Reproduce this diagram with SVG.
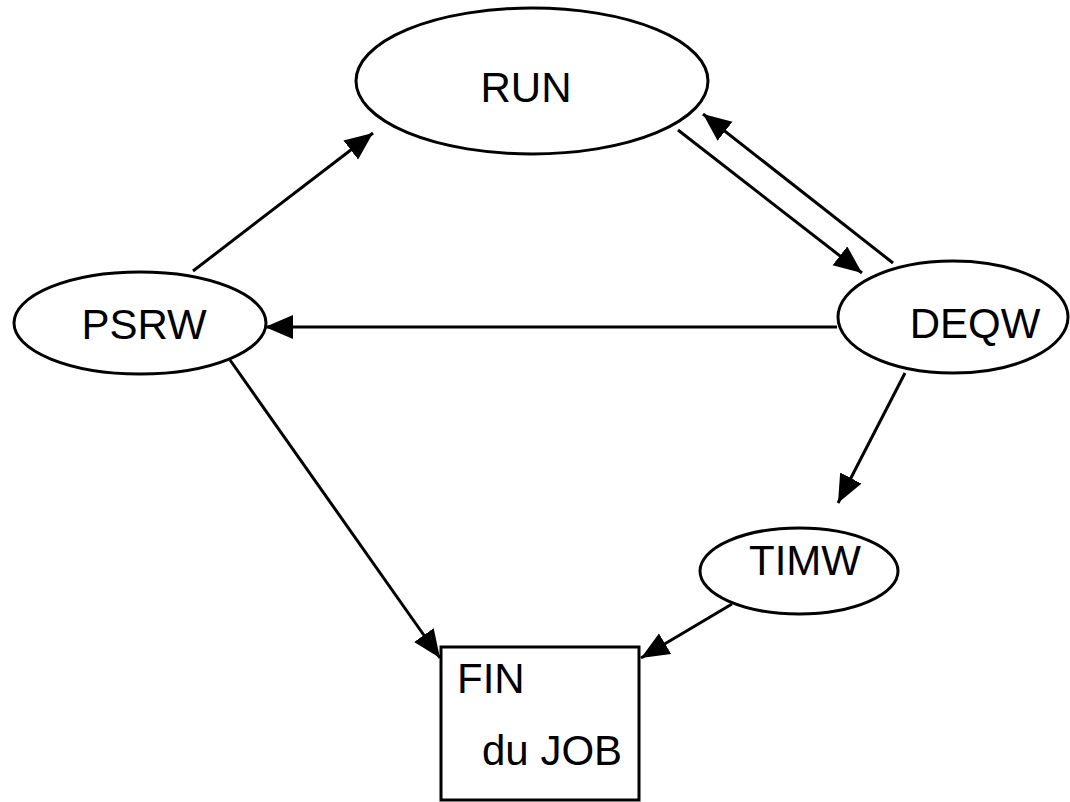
<svg xmlns="http://www.w3.org/2000/svg" width="1070" height="802" viewBox="0 0 1070 802">
  <style>
    .node { fill: #ffffff; stroke: #000000; stroke-width: 3; }
    .label { font-family: "Liberation Sans", Arial, sans-serif; font-size: 42px; fill: #000000; }
    .edge { stroke: #000000; stroke-width: 3; fill: none; marker-end: url(#arrow); }
  </style>
  <defs>
    <marker id="arrow" markerUnits="userSpaceOnUse" markerWidth="30" markerHeight="26" refX="28" refY="12" orient="auto">
      <path d="M0,0 L28,12 L0,24 z" fill="#000000"/>
    </marker>
  </defs>

  <rect width="1070" height="802" fill="#ffffff"/>

  <g id="node-run">
    <ellipse class="node" cx="532" cy="81" rx="176" ry="73"/>
    <text class="label" x="526" y="102" text-anchor="middle">RUN</text>
  </g>

  <g id="node-psrw">
    <ellipse class="node" cx="140" cy="323" rx="126" ry="51"/>
    <text class="label" x="144" y="339" text-anchor="middle">PSRW</text>
  </g>

  <g id="node-deqw">
    <ellipse class="node" cx="953" cy="317" rx="115" ry="56"/>
    <text class="label" x="975" y="338" text-anchor="middle">DEQW</text>
  </g>

  <g id="node-timw">
    <ellipse class="node" cx="799" cy="571" rx="99" ry="43"/>
    <text class="label" x="805" y="575" text-anchor="middle">TIMW</text>
  </g>

  <g id="node-fin">
    <rect class="node" x="441" y="647" width="198" height="153"/>
    <text class="label" x="457" y="693">FIN</text>
    <text class="label" x="482" y="765">du JOB</text>
  </g>

  <g id="connectors">
    <line class="edge" x1="193" y1="271" x2="373" y2="133"/>
    <line class="edge" x1="678" y1="130" x2="862" y2="273"/>
    <line class="edge" x1="893" y1="263" x2="703" y2="114"/>
    <line class="edge" x1="837" y1="327" x2="265" y2="327"/>
    <line class="edge" x1="230" y1="360" x2="440" y2="658"/>
    <line class="edge" x1="905" y1="373" x2="838" y2="503"/>
    <line class="edge" x1="732" y1="604" x2="641" y2="658"/>
  </g>
</svg>
